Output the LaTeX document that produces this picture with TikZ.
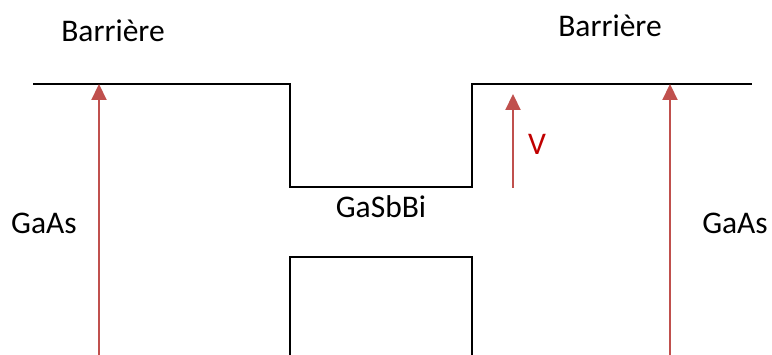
\documentclass[tikz,border=0pt]{standalone}
\usepackage{fontspec}
\setmainfont{Carlito}
\usetikzlibrary{arrows.meta}
\definecolor{arrowred}{HTML}{C0504D}
\definecolor{vred}{HTML}{C00000}
\tikzset{
  band/.style={draw=black, line width=2pt},
  uparrow/.style={draw=arrowred, line width=2.2pt, -{Triangle[length=16pt,width=15pt]}},
  lbl/.style={font=\fontsize{31.5}{36}\selectfont, text=black, inner sep=0pt},
}
\begin{document}
\begin{tikzpicture}[x=1pt,y=-1pt]
\useasboundingbox (0,0) rectangle (772,355);
% band edges
\draw[band] (33,84) -- (290,84) -- (290,187) -- (472,187) -- (472,84) -- (752,84);
\draw[band] (290,356) -- (290,257) -- (472,257) -- (472,356);
% arrows
\coordinate (la0) at (99,358);
\coordinate (la1) at (99,84);
\coordinate (ra0) at (670,358);
\coordinate (ra1) at (670,84);
\coordinate (va0) at (513,188);
\coordinate (va1) at (513,94);
\draw[uparrow] (la0) -- (la1);
\draw[uparrow] (ra0) -- (ra1);
\draw[uparrow] (va0) -- (va1);
% labels
\node[lbl] (b1) at (113,31) {Barrière};
\node[lbl] (b2) at (610,26) {Barrière};
\node[lbl] (gs) at (381,207) {GaSbBi};
\node[lbl] (g1) at (44,223) {GaAs};
\node[lbl] (g2) at (735,223) {GaAs};
\node[lbl, text=vred] (v) at (537,144) {V};
\end{tikzpicture}
\end{document}
